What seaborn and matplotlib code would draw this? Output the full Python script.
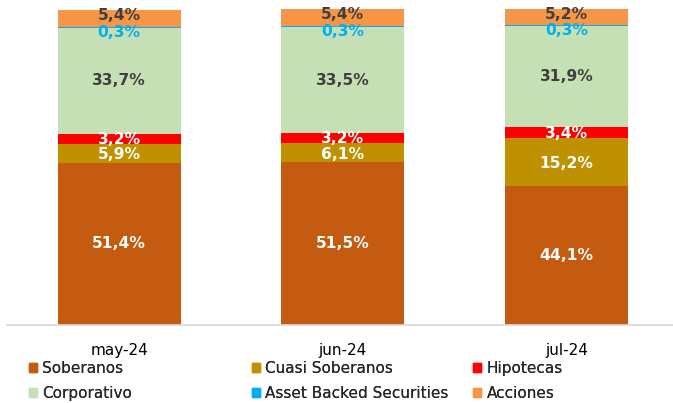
import numpy as np
import pandas as pd
import matplotlib
matplotlib.use("Agg")
import matplotlib.pyplot as plt
import seaborn as sns
from matplotlib.patches import Patch

# data
months = ["may-24", "jun-24", "jul-24"]
series = ["Soberanos", "Cuasi Soberanos", "Hipotecas", "Corporativo",
          "Asset Backed Securities", "Acciones"]
soberanos = [51.4, 51.5, 44.1]
cuasi = [5.9, 6.1, 15.2]
hipotecas = [3.2, 3.2, 3.4]
corporativo = [33.7, 33.5, 31.9]
abs_sec = [0.3, 0.3, 0.3]
acciones = [5.4, 5.4, 5.2]

colors = ["#C55A11", "#BF9000", "#FF0000", "#C5E0B4", "#00B0F0", "#F79646"]
label_colors = ["white", "white", "white", "#404040", "#00B0F0", "#404040"]

sns.set_theme(style="white")
plt.rcParams['font.family'] = ['DejaVu Sans']

values = np.array([soberanos, cuasi, hipotecas, corporativo, abs_sec, acciones])
cum = values.cumsum(axis=0)

fig = plt.figure(figsize=(6.73, 4.03), dpi=100)
ax = fig.add_axes([0.011, 0.1935, 0.989, 0.7835])

# draw from top segment down so each covers the lower ones
for i in range(len(series) - 1, -1, -1):
    df = pd.DataFrame({"mes": months, "v": cum[i]})
    sns.barplot(data=df, x="mes", y="v", color=colors[i], width=0.55,
                saturation=1, ax=ax, linewidth=0)

# labels
offsets = [0, -0.5, -0.2, 0, -1.6, 0.9]
for i in range(len(series)):
    for j in range(len(months)):
        bottom = cum[i][j] - values[i][j]
        y = bottom + values[i][j] / 2 + offsets[i]
        ax.text(j, y, f"{values[i][j]:.1f}%".replace(".", ","),
                ha="center", va="center", fontsize=11.2, fontweight="bold",
                color=label_colors[i])

ax.set_ylim(0, 100)
ax.set_xlim(-0.499, 2.4765)
ax.set_xlabel("")
ax.set_ylabel("")
ax.set_yticks([])
for s in ["top", "left", "right"]:
    ax.spines[s].set_visible(False)
ax.spines["bottom"].set_color("#D9D9D9")
ax.tick_params(axis="x", length=0, pad=13, labelsize=11, labelcolor="black")

# legend, three columns
col_x = [0.0431, 0.3744, 0.7028]
for k in range(3):
    handles = [Patch(color=colors[k], label=series[k]),
               Patch(color=colors[k + 3], label=series[k + 3])]
    leg = fig.legend(handles=handles, loc="upper left",
                     bbox_to_anchor=(col_x[k], 0.105), frameon=False,
                     fontsize=11, handlelength=0.55, handleheight=0.55,
                     handletextpad=0.33, labelspacing=0.65, borderaxespad=0,
                     borderpad=0)
    fig.add_artist(leg)

fig.savefig("out.png", dpi=100)
